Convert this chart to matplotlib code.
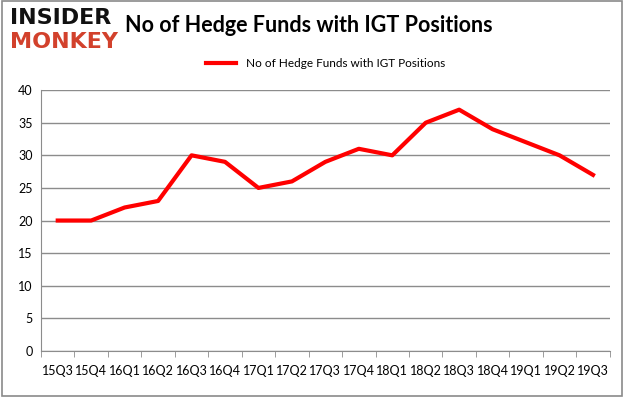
import numpy as np
import matplotlib.pyplot as plt
from matplotlib.patches import Rectangle

plt.rcParams['font.family'] = ['Lato', 'DejaVu Sans']

quarters = ['15Q3', '15Q4', '16Q1', '16Q2', '16Q3', '16Q4', '17Q1', '17Q2', '17Q3',
            '17Q4', '18Q1', '18Q2', '18Q3', '18Q4', '19Q1', '19Q2', '19Q3']
funds = [20, 20, 22, 23, 30, 29, 25, 26, 29, 31, 30, 35, 37, 34, 32, 30, 27]
y_ticks = [0, 5, 10, 15, 20, 25, 30, 35, 40]

fig = plt.figure(figsize=(6.26, 3.97), dpi=100)
fig.patches.append(Rectangle((0.003, 0.003), 0.991, 0.994, transform=fig.transFigure,
                             fill=False, edgecolor='#8a8a8a', linewidth=1.2))

ax = fig.add_axes([0.0655, 0.116, 0.9085, 0.657])
x = np.arange(len(quarters))
ax.plot(x, funds, color='#ff0000', linewidth=3, label='No of Hedge Funds with IGT Positions')

ax.set_xlim(-0.5, len(quarters) - 0.5)
ax.set_ylim(0, 40)
ax.set_yticks(y_ticks)
ax.yaxis.grid(True, color='#8c8c8c', linewidth=1)
ax.set_axisbelow(True)
ax.tick_params(axis='y', length=0, labelsize=9, pad=6)

ax.set_xticks(x)
ax.set_xticklabels(quarters, fontsize=9)
ax.tick_params(axis='x', length=0, pad=10)
ax.set_xticks(np.arange(-0.5, len(quarters)), minor=True)
ax.tick_params(axis='x', which='minor', length=4, color='#8c8c8c')

for side in ['top', 'right']:
    ax.spines[side].set_visible(False)
ax.spines['left'].set_color('#8c8c8c')
ax.spines['bottom'].set_color('#8c8c8c')

ax.legend(loc='lower center', bbox_to_anchor=(0.5, 1.04), frameon=False, fontsize=8.5,
          handlelength=2.6)

fig.text(0.2, 0.935, 'No of Hedge Funds with IGT Positions', fontsize=15.5,
         fontweight='bold', va='center', ha='left')
fig.text(0.016, 0.955, 'INSIDER', fontsize=16, fontweight='black', color='#111111',
         va='center', ha='left', family=['DejaVu Sans'])
fig.text(0.016, 0.895, 'MONKEY', fontsize=16, fontweight='black', color='#d2412c',
         va='center', ha='left', family=['DejaVu Sans'])

fig.savefig('out.png', dpi=100)
